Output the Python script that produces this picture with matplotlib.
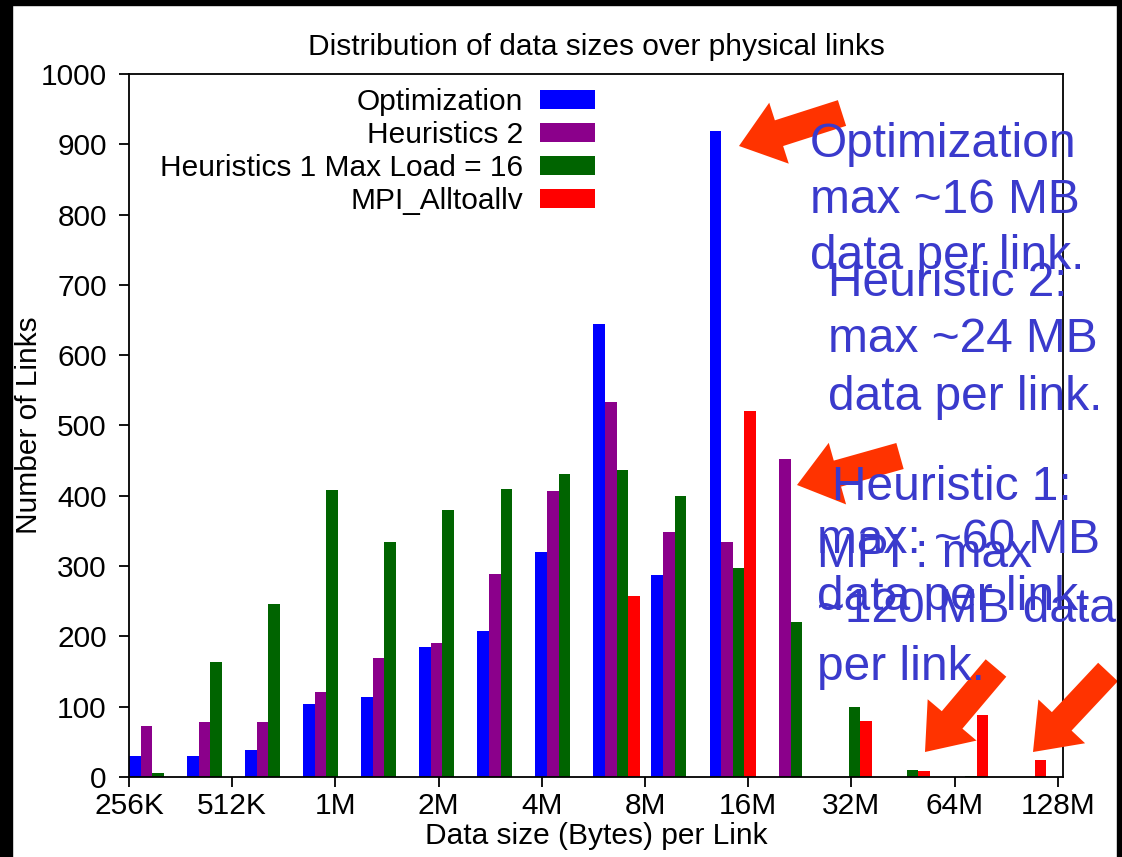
import matplotlib
matplotlib.use("Agg")
import matplotlib.pyplot as plt
from matplotlib.patches import FancyArrow, Rectangle
import numpy as np

plt.rcParams['font.family'] = ['Liberation Sans', 'DejaVu Sans']

# ---- data ----
series_names = ["Optimization", "Heuristics 2", "Heuristics 1 Max Load = 16", "MPI_Alltoallv"]
series_colors = ["#0000ff", "#8b008b", "#006400", "#ff0000"]
optimization = [30, 30, 38, 104, 114, 185, 207, 320, 645, 287, 919, 0, 0, 0, 0, 0]
heuristics2 = [73, 78, 78, 121, 169, 190, 289, 407, 533, 348, 334, 452, 0, 0, 0, 0]
heuristics1 = [6, 163, 246, 408, 334, 380, 410, 431, 437, 400, 297, 220, 100, 10, 1, 0]
mpi_alltoallv = [0, 0, 0, 0, 0, 0, 0, 0, 257, 0, 521, 0, 80, 8, 88, 24]
tick_labels = ["256K", "512K", "1M", "2M", "4M", "8M", "16M", "32M", "64M", "128M"]
tick_log2 = [18, 19, 20, 21, 22, 23, 24, 25, 26, 27]

series = [optimization, heuristics2, heuristics1, mpi_alltoallv]
n_bins = len(optimization)
bin_w = (tick_log2[-1] - tick_log2[0]) / n_bins
bar_w = bin_w / 5.0
bin_left = tick_log2[0] + np.arange(n_bins) * bin_w

W, H = 1122, 857
fig = plt.figure(figsize=(W / 100, H / 100), dpi=100)
ax = fig.add_axes([129 / W, 1 - 777 / H, (1063 - 129) / W, (777 - 74) / H])

for k, (vals, name, col) in enumerate(zip(series, series_names, series_colors)):
    ax.bar(bin_left + k * bar_w, vals, width=bar_w, align='edge', color=col,
           label=name, linewidth=0)

ax.set_xlim(tick_log2[0], tick_log2[0] + (1063 - 129) / 103.2)
ax.set_ylim(0, 1000)
ax.set_yticks(np.arange(0, 1001, 100))
ax.set_xticks(tick_log2)
ax.set_xticklabels(tick_labels)
fs = 21.5
ax.tick_params(axis='both', labelsize=fs, length=7, width=1.3, direction='out',
               colors='black')
ax.tick_params(axis='y', pad=9)
ax.tick_params(axis='x', pad=4)
for s in ax.spines.values():
    s.set_linewidth(1.3)
ax.set_title("Distribution of data sizes over physical links", fontsize=fs, pad=14)
ax.set_xlabel("Data size (Bytes) per Link", fontsize=fs, labelpad=1)
ax.set_ylabel("Number of Links", fontsize=fs)
ax.yaxis.set_label_coords((43 - 129) / (1063 - 129), 0.5)

leg = ax.legend(loc='upper right', bbox_to_anchor=((595 - 129) / (1063 - 129), 0.98),
                frameon=False, markerfirst=False, fontsize=fs, handlelength=1.85,
                handleheight=0.6, labelspacing=0.17, borderpad=0, borderaxespad=0,
                handletextpad=0.55)

# ---- annotations (figure pixel coordinates) ----
blue = "#3a3acc"
afs = 34.5
lines = [
    (810, 157, "Optimization"), (810, 213, "max ~16 MB"), (810, 269, "data per link."),
    (828, 296, "Heuristic 2:"), (828, 352, "max ~24 MB"), (828, 410, "data per link."),
    (832, 500, "Heuristic 1:"), (817, 553, "max: ~60 MB"), (817, 610, "data per link."),
    (817, 567, "MPI : max"), (817, 622, "~120 MB data"), (817, 680, "per link."),
]
for x, y, t in lines:
    fig.text(x / W, 1 - y / H, t, color=blue, fontsize=afs, ha='left', va='baseline')

arrow_col = "#ff3300"
arrows = [
    ((842, 113), (739, 146)),
    ((900, 456), (797, 485)),
    ((996, 668), (925, 752)),
    ((1108, 672), (1033, 752)),
]
for (x0, y0), (x1, y1) in arrows:
    x0d, y0d, x1d, y1d = x0, H - y0, x1, H - y1
    arr = FancyArrow(x0d, y0d, x1d - x0d, y1d - y0d, width=27, head_width=64,
                     head_length=42, length_includes_head=True, color=arrow_col,
                     transform=None, linewidth=0)
    fig.patches.append(arr)

# black frame edges
fig.patches.append(Rectangle((0, 0), 12 / W, 1, transform=fig.transFigure, color='black'))
fig.patches.append(Rectangle((0, 1 - 5 / H), 1, 5 / H, transform=fig.transFigure, color='black'))
fig.patches.append(Rectangle((1117 / W, 0), 5 / W, 1, transform=fig.transFigure, color='black'))

fig.savefig("out.png", dpi=100)
